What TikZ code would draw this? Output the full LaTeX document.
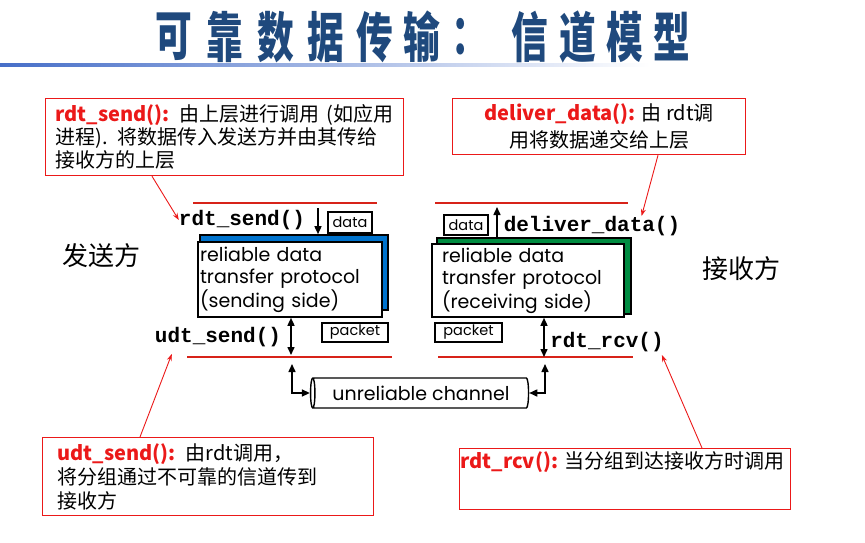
\documentclass[tikz,border=0pt]{standalone}
\usepackage{fontspec}
\usepackage{graphicx}
\setmainfont{Poppins}
\setmonofont{Liberation Mono}
\newfontfamily\cjk{Noto Sans CJK SC}
\usetikzlibrary{shapes.geometric,arrows.meta,positioning}
\definecolor{titleblue}{RGB}{31,73,125}
\definecolor{ruleblue}{RGB}{70,110,200}
\definecolor{notered}{RGB}{235,25,25}
\definecolor{barred}{RGB}{215,35,25}
\definecolor{sendblue}{RGB}{0,115,205}
\definecolor{recvgreen}{RGB}{0,140,65}
\newcommand{\narrow}[1]{\scalebox{0.68}[1]{#1}}
\tikzstyle{titlechar} = [font=\cjk\bfseries\fontsize{54}{54}\selectfont, text=titleblue, inner sep=0pt]
\tikzstyle{note} = [rectangle, draw=notered, line width=1.2pt, font=\cjk\fontsize{20}{23}\selectfont, align=left]
\tikzstyle{func} = [font=\ttfamily\bfseries\fontsize{21}{21}\selectfont, inner sep=0pt]
\tikzstyle{proto} = [rectangle, draw, line width=1.6pt, fill=white, align=left, font=\fontsize{19}{22}\selectfont]
\tikzstyle{tag} = [rectangle, draw, line width=1.4pt, font=\fontsize{14.5}{14.5}\selectfont, inner sep=0pt]
\tikzstyle{side} = [font=\cjk\fontsize{26}{26}\selectfont, inner sep=0pt]
\tikzstyle{callout} = [draw=notered, line width=0.9pt, -{Stealth[length=7pt,width=5pt]}]
\tikzstyle{flow} = [draw, line width=1.5pt, -{Triangle[length=8pt,width=7pt]}]
\tikzstyle{twoway} = [draw, line width=1.5pt, {Triangle[length=8pt,width=7pt]}-{Triangle[length=8pt,width=7pt]}]
\tikzstyle{bar} = [draw=barred, line width=2.6pt]
\newcommand{\hot}[1]{\textcolor{notered}{\bfseries #1}}

\begin{document}
\begin{tikzpicture}[x=1pt, y=-1pt]
    \useasboundingbox (0,0) rectangle (865,542);

    % title and rule
    \shade[left color=ruleblue, right color=white] (0,63) rectangle (650,66);
    \foreach \ch/\cx [count=\i] in {可/174,靠/225,数/276,据/326,传/375,输/422,：/470,信/530,道/578,模/625,型/672} {
        \node[titlechar] (title\i) at (\cx,37) {\narrow{\ch}};
    }

    % notes
    \node [note, anchor=north west, minimum width=358pt, minimum height=77pt, text width=338pt, inner xsep=10pt] (sendnote) at (45,98)
        {\hot{rdt\_send():} 由上层进行调用 (如应用\\进程). 将数据传入发送方并由其传给\\接收方的上层};
    \node [note, anchor=north west, minimum width=293pt, minimum height=56pt, align=center, font=\cjk\fontsize{20}{27}\selectfont] (delivnote) at (452,98)
        {\hot{deliver\_data():} 由 rdt调\\用将数据递交给上层};
    \node [note, anchor=north west, minimum width=331pt, minimum height=78pt, text width=301pt, inner xsep=15pt, font=\cjk\fontsize{20}{24}\selectfont] (udtnote) at (42,437)
        {\hot{udt\_send():} 由rdt调用，\\将分组通过不可靠的信道传到\\接收方};
    \node [note, anchor=north west, text width=329pt, inner xsep=1pt, inner ysep=4pt, text height=16pt, text depth=37pt] (rcvnote) at (459,448)
        {\hot{rdt\_rcv():}~当分组到达接收方时调用};

    % sides
    \node [side] (sender) at (101,256) {发送方};
    \node [side] (receiver) at (741,269) {接收方};

    % protocol boxes
    \node [proto, fill=sendblue, minimum width=188pt, minimum height=75pt] (sendshade) at (294,272.5) {};
    \node [proto, minimum width=184pt, minimum height=75pt, text width=180pt, inner xsep=2pt] (sendproto) at (290,279.5)
        {reliable data\\transfer protocol\\(sending side)};
    \node [proto, fill=recvgreen, minimum width=194pt, minimum height=76pt] (recvshade) at (534,276) {};
    \node [proto, minimum width=192pt, minimum height=73pt, text width=172pt, inner xsep=10pt] (recvproto) at (528,280.5)
        {reliable data\\transfer protocol\\(receiving side)};

    % tags
    \node [tag, minimum width=44pt, minimum height=21pt] (senddata) at (350,222.5) {data};
    \node [tag, minimum width=66pt, minimum height=19pt] (sendpkt) at (355,332.5) {packet};
    \node [tag, minimum width=44pt, minimum height=20pt] (recvdata) at (466,225) {data};
    \node [tag, minimum width=67pt, minimum height=19pt] (recvpkt) at (468.5,332.5) {packet};

    % function names
    \node [func] (rdtsend) at (242,220) {rdt\_send()};
    \node [func] (udtsend) at (218,337) {udt\_send()};
    \node [func] (delivdata) at (592,226) {deliver\_data()};
    \node [func] (rdtrcv) at (607,342) {rdt\_rcv()};

    % channel
    \node [cylinder, draw, line width=1.4pt, shape border rotate=180, aspect=0.3, minimum height=218pt, minimum width=30pt,
        font=\fontsize{19}{19}\selectfont, inner sep=0pt] (channel) at (421,393) {unreliable channel};

    % layer bars
    \draw [bar] (193,203) -- (377,203);
    \draw [bar] (435,203) -- (628,203);
    \draw [bar] (187,357) -- (392,357);
    \draw [bar] (438,357) -- (633,357);

    % ports
    \coordinate (sendin) at (318,208);
    \coordinate (recvout) at (497,207);
    \coordinate (sendport) at (291,355);
    \coordinate (recvport) at (544,357);
    \coordinate (chanleft) at (292,364);
    \coordinate (chanright) at (545,364);

    \path [flow] (sendin) -- (sendin |- sendshade.north);
    \path [flow] (recvout |- recvshade.north) -- (recvout);
    \path [twoway] (sendproto.south -| sendport) -- (sendport);
    \path [twoway] (recvproto.south -| recvport) -- (recvport);
    \path [twoway] (chanleft) |- (channel.west);
    \path [twoway] (chanright) |- (channel.east);

    % callouts
    \path [callout] ([xshift=107pt]sendnote.south west) -- (rdtsend.west);
    \path [callout] ([xshift=206pt]delivnote.south west) -- ([xshift=138pt]delivdata.north west);
    \path [callout] ([xshift=98pt]udtnote.north west) -- ([shift={(17pt,-7pt)}]udtsend.south west);
    \path [callout] ([xshift=243pt]rcvnote.north west) -- ([shift={(-2pt,-3pt)}]rdtrcv.south east);
\end{tikzpicture}
\end{document}
